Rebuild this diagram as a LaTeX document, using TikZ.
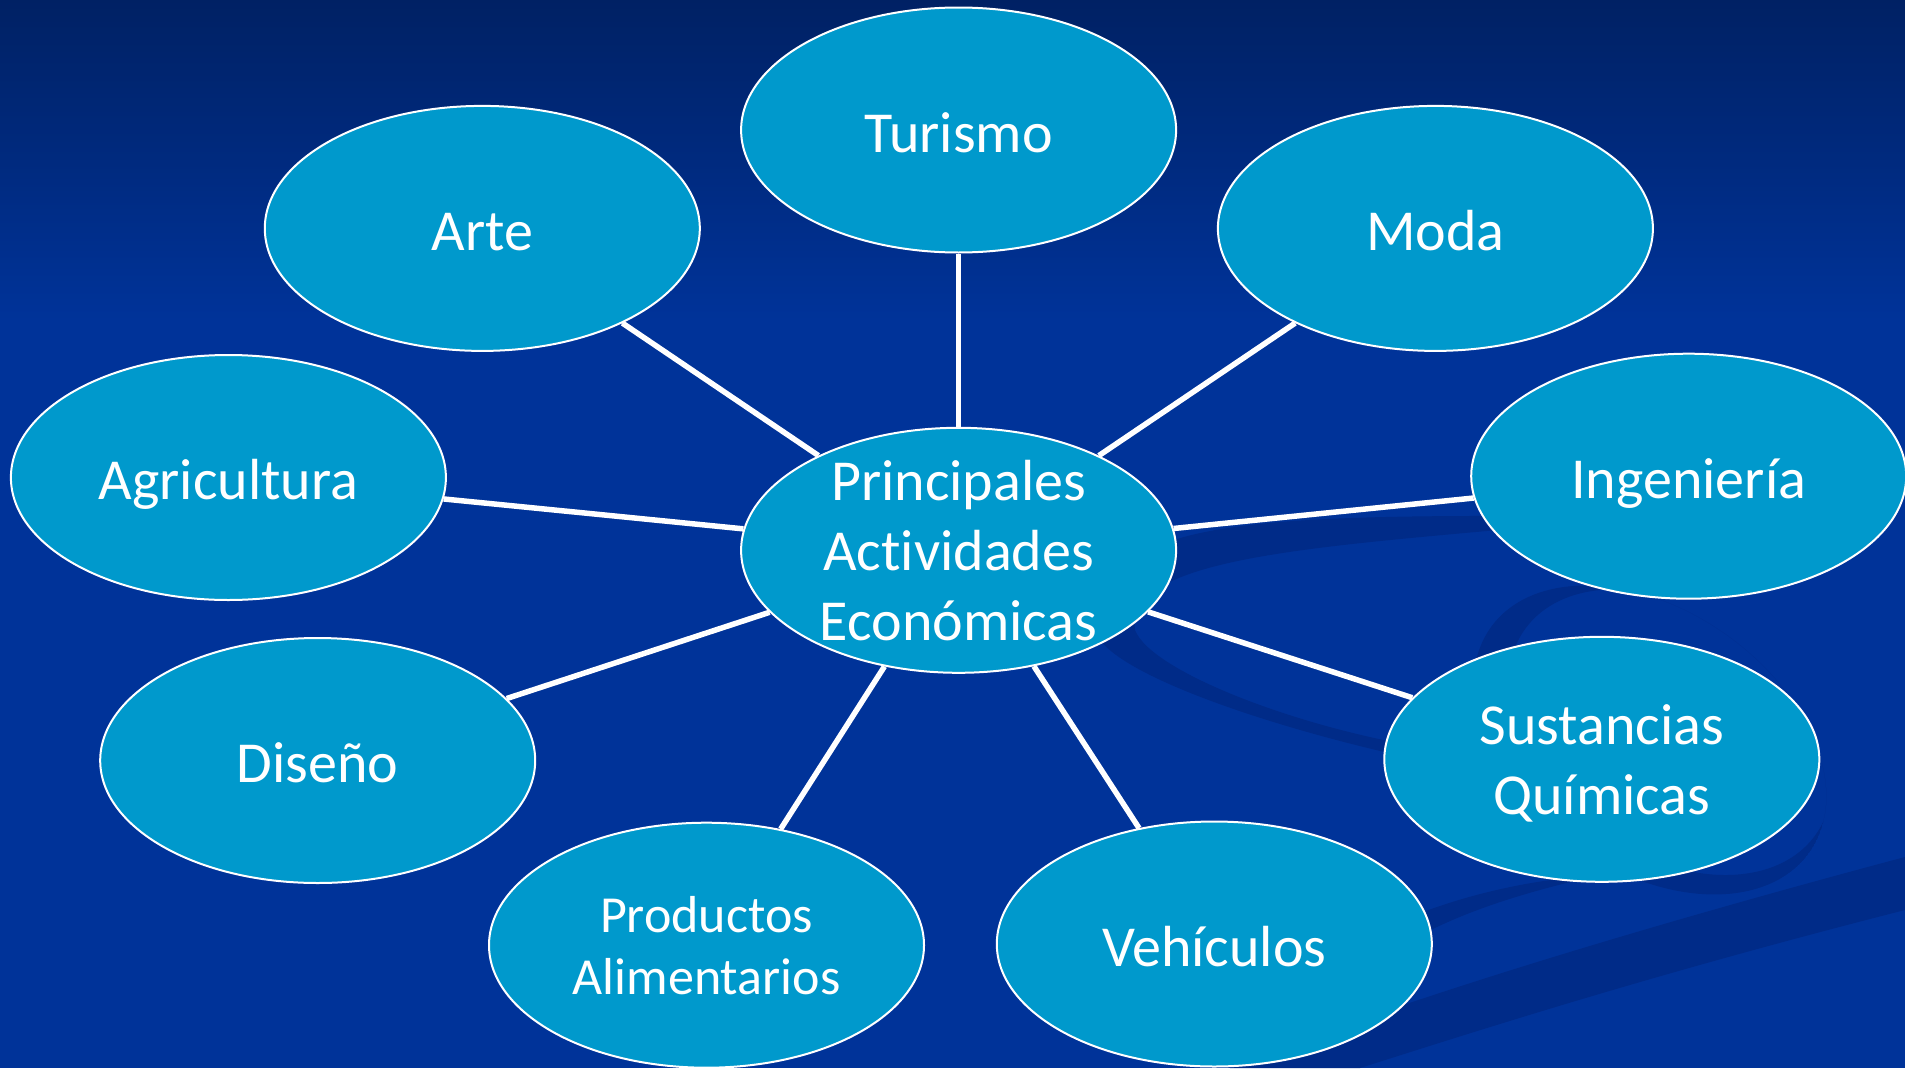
\documentclass[tikz,border=0pt]{standalone}
\usepackage{fontspec}
\setmainfont{Carlito}[Ligatures={NoCommon,NoContextual,NoRare}, Contextuals=NoAlternate]
\usetikzlibrary{shapes.geometric}
\definecolor{bgtop}{RGB}{0,33,100}
\definecolor{bgmain}{RGB}{0,51,153}
\definecolor{swoosh}{RGB}{0,43,136}
\definecolor{bubble}{RGB}{0,153,204}
\begin{document}
\begin{tikzpicture}[x=1pt,y=-1pt,
  bub/.style={ellipse, draw=white, line width=2pt, fill=bubble, minimum width=435pt, minimum height=245pt, inner sep=0pt},
  lbl/.style={text=white, font=\fontsize{58}{70}\selectfont, align=center, inner sep=0pt},
  lblone/.style={lbl, anchor=base, yshift=-22pt},
  conn/.style={draw=white, line width=5.5pt}]
\useasboundingbox (0,0) rectangle (1905,1068);
% background
\fill[bgmain] (0,0) rectangle (1905,1068);
\shade[top color=bgtop, bottom color=bgmain] (0,0) rectangle (1905,320);
% decorative swooshes
\fill[swoosh] (1520,516) .. controls (1200,515) and (1090,530) .. (1100,640)
  .. controls (1130,680) and (1280,730) .. (1420,760) -- (1420,747)
  .. controls (1290,725) and (1150,670) .. (1135,630)
  .. controls (1125,560) and (1300,548) .. (1520,528) -- cycle;
\begin{scope}[rotate around={-35:(1650,740)}]
\clip (1650,740) ellipse [x radius=195, y radius=130];
\fill[swoosh, even odd rule] (1650,740) ellipse [x radius=195, y radius=130]
  (1662,722) ellipse [x radius=178, y radius=122];
\end{scope}
\fill[swoosh] (1370,935) .. controls (1440,900) and (1520,880) .. (1600,875)
  .. controls (1520,893) and (1450,915) .. (1395,950) -- cycle;
\fill[swoosh] (1230,1068) .. controls (1400,1000) and (1650,925) .. (1905,857)
  -- (1905,910) .. controls (1650,975) and (1480,1030) .. (1360,1068) -- cycle;
% bubbles
\node[bub] (cen) at (958.6,550.3) {};
\node[bub] (tur) at (958.6,130) {};
\node[bub] (art) at (482.3,228.4) {};
\node[bub] (mod) at (1435.4,228.4) {};
\node[bub] (agr) at (228.4,477.5) {};
\node[bub] (ing) at (1688.7,476.2) {};
\node[bub] (dis) at (317.7,760.5) {};
\node[bub] (sus) at (1601.8,759.3) {};
\node[bub] (pro) at (706.5,945.2) {};
\node[bub] (veh) at (1214.3,944) {};
% connectors
\foreach \n in {tur,art,mod,agr,ing,dis,sus,pro,veh}{
  \draw[conn] (cen) -- (\n);
}
% labels
\node[lbl] (tcen) at (cen) {Principales\\Act\kern0pt ividades\\Económicas};
\node[lblone] (ttur) at (tur) {Turismo};
\node[lblone] (tart) at (art) {Arte};
\node[lblone] (tmod) at (mod) {Moda};
\node[lblone] (tagr) at (agr) {Agricultura};
\node[lblone] (ting) at (ing) {Ingeniería};
\node[lblone] (tdis) at (dis) {Diseño};
\node[lbl, yshift=-4pt] (tsus) at (sus) {Sustancias\\Químicas};
\node[lbl, font=\fontsize{52}{62}\selectfont] (tpro) at (pro) {Productos\\Alimentarios};
\node[lblone] (tveh) at (veh) {Vehículos};
\end{tikzpicture}
\end{document}
